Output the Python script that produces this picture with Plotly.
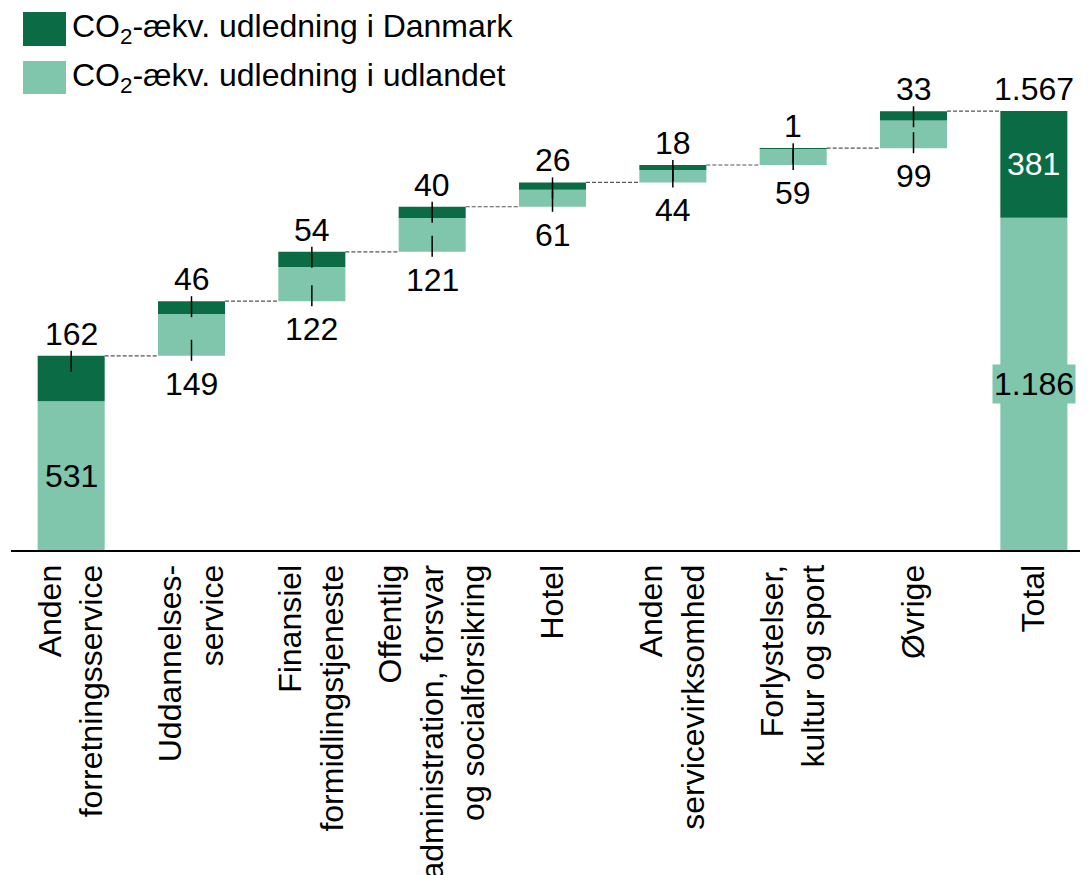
import plotly.graph_objects as go

categories = [
    "Anden<br>forretningsservice",
    "Uddannelses-<br>service",
    "Finansiel<br>formidlingstjeneste",
    "Offentlig<br>administration, forsvar<br>og socialforsikring",
    "Hotel",
    "Anden<br>servicevirksomhed",
    "Forlystelser,<br>kultur og sport",
    "Øvrige",
]
total_label = "Total"
dk_values = [162, 46, 54, 40, 26, 18, 1, 33]
foreign_values = [531, 149, 122, 121, 61, 44, 59, 99]
total_dk = 381
total_foreign = 1186
total_all = 1567

series_names = ["CO<sub>2</sub>-ækv. udledning i Danmark",
                "CO<sub>2</sub>-ækv. udledning i udlandet"]

DARK = "#0a6b44"
LIGHT = "#7fc6ad"
FONT = "Liberation Sans, Arial, sans-serif"
FS = 32

OFF = 8  # page body margin offset
W, H = 1088, 875
L, T = 11 - OFF, 100 - OFF
R = OFF
B = H - (550 - OFF)
plot_w, plot_h = W - L - R, H - T - B
YMAX = 1606
XR = [-0.5, 8.45]
upp = YMAX / plot_h  # data units per pixel
BW = 0.557


def fmt(v):
    return f"{v:,}".replace(",", ".")


n = len(categories)
xs = list(range(n + 1))
bases_f, bases_d, tops = [], [], []
cum = 0
for f, d in zip(foreign_values, dk_values):
    bases_f.append(cum)
    bases_d.append(cum + f)
    cum += f + d
    tops.append(cum)

fig = go.Figure()
fig.add_trace(go.Bar(
    x=xs, y=foreign_values + [total_foreign], base=bases_f + [0],
    width=BW, marker=dict(color=LIGHT, line=dict(width=0)),
    name="udlandet", showlegend=False, hoverinfo="skip"))
fig.add_trace(go.Bar(
    x=xs, y=dk_values + [total_dk], base=bases_d + [total_foreign],
    width=BW, marker=dict(color=DARK, line=dict(width=0)),
    name="Danmark", showlegend=False, hoverinfo="skip"))

shapes = []
annotations = []
tf = dict(family=FONT, size=FS, color="black")

for i in range(n):
    top = tops[i]
    bottom = bases_f[i]
    annotations.append(dict(x=i, y=top, xref="x", yref="y", text=fmt(dk_values[i]),
                            showarrow=False, yanchor="middle", yshift=22, font=tf))
    shapes.append(dict(type="line", xref="x", yref="y", x0=i, x1=i,
                       y0=top + 5 * upp, y1=top - 16 * upp,
                       line=dict(color="black", width=1.5)))
    if i == 0:
        annotations.append(dict(x=i, y=bottom + foreign_values[i] / 2, xref="x", yref="y",
                                text=fmt(foreign_values[i]), showarrow=False,
                                yanchor="middle", font=tf))
    else:
        annotations.append(dict(x=i, y=bottom, xref="x", yref="y", text=fmt(foreign_values[i]),
                                showarrow=False, yanchor="middle", yshift=-28, font=tf))
        shapes.append(dict(type="line", xref="x", yref="y", x0=i, x1=i,
                           y0=bottom - 5 * upp, y1=bottom + 16 * upp,
                           line=dict(color="black", width=1.5)))
    shapes.append(dict(type="line", xref="x", yref="y", x0=i + BW / 2, x1=i + 1 - BW / 2,
                       y0=top, y1=top, line=dict(color="#555555", width=1.2, dash="4px,2px")))

annotations.append(dict(x=n, y=total_all, xref="x", yref="y", text=fmt(total_all),
                        showarrow=False, yanchor="middle", yshift=22, font=tf))
annotations.append(dict(x=n, y=total_foreign + total_dk / 2, xref="x", yref="y",
                        text=fmt(total_dk), showarrow=False, yanchor="middle",
                        font=dict(family=FONT, size=FS, color="white")))
annotations.append(dict(x=n, y=total_foreign / 2, xref="x", yref="y",
                        text=fmt(total_foreign), showarrow=False, yanchor="middle",
                        bgcolor=LIGHT, borderpad=1, font=tf))


def px_x(p):
    return (p - OFF - L) / plot_w


def px_y(p):
    return 1 - (p - OFF - T) / plot_h


for k, (color, (y0, y1)) in enumerate(zip([DARK, LIGHT], [(12, 46), (61, 94)])):
    shapes.append(dict(type="rect", xref="paper", yref="paper",
                       x0=px_x(23), x1=px_x(66), y0=px_y(y1), y1=px_y(y0),
                       fillcolor=color, line=dict(width=0)))
    annotations.append(dict(x=px_x(70), y=px_y((y0 + y1) / 2), xref="paper", yref="paper",
                            text=series_names[k], showarrow=False, xanchor="left",
                            yanchor="middle", font=dict(family=FONT, size=FS, color="black")))

fig.update_layout(
    width=W, height=H,
    margin=dict(l=L, r=R, t=T, b=B),
    plot_bgcolor="white", paper_bgcolor="white",
    barmode="overlay",
    shapes=shapes, annotations=annotations,
    font=dict(family=FONT, size=FS, color="black"),
)
fig.update_xaxes(range=XR, tickvals=xs, ticktext=categories + [total_label],
                 tickangle=-90, showline=True, linecolor="black", linewidth=2,
                 showgrid=False, zeroline=False, ticks="",
                 tickfont=dict(family=FONT, size=FS, color="black"))
fig.update_yaxes(range=[0, YMAX], visible=False, showgrid=False, zeroline=False)

fig.write_html("out.html")
